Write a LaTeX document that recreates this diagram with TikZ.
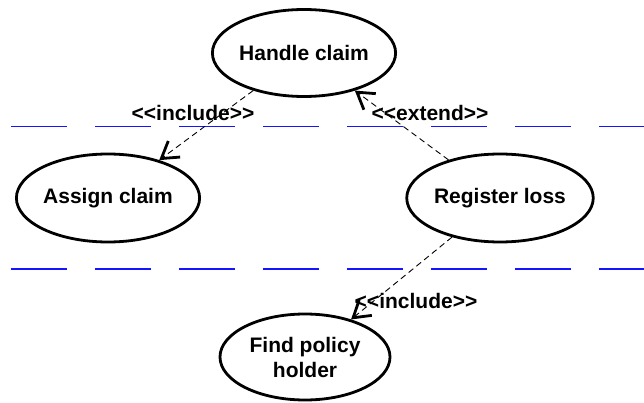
\documentclass[tikz,border=0pt]{standalone}
\usepackage{fontspec}
\newfontfamily\umlfont{Liberation Sans}
\usetikzlibrary{shapes.geometric,arrows.meta}
\definecolor{lanecol}{RGB}{20,20,255}
\begin{document}
\begin{tikzpicture}[x=1pt,y=-1pt,
  usecase/.style={ellipse,draw,line width=2.8pt,inner sep=0pt,align=center,
    font=\umlfont\bfseries\fontsize{21}{25}\selectfont},
  dep/.style={draw,line width=0.9pt,dash pattern=on 6pt off 4pt,
    -{Straight Barb[length=16pt,width=20pt,line width=2.8pt]}},
  stereo/.style={inner sep=0pt,font=\umlfont\bfseries\fontsize{21}{25}\selectfont},
  lane/.style={draw=lanecol,line width=1.5pt,dash pattern=on 56pt off 28pt}]
\useasboundingbox (0,0) rectangle (644,403);
% swimlane separators
\coordinate (l1a) at (11,126.5); \coordinate (l1b) at (644,126.5);
\coordinate (l2a) at (11,269); \coordinate (l2b) at (644,269);
\path[lane] (l1a) -- (l1b);
\path[lane] (l2a) -- (l2b);
% use cases
\node[usecase,minimum width=172pt,minimum height=87pt] (hc) at (304,53) {Handle claim};
\node[usecase,minimum width=176pt,minimum height=88pt] (ac) at (108,198) {Assign claim};
\node[usecase,minimum width=172pt,minimum height=88pt] (rl) at (500,198) {Register loss};
\node[usecase,minimum width=170pt,minimum height=86pt] (fp) at (305,357) {Find policy\\holder};
% dependencies
\draw[dep] (hc) -- (ac);
\draw[dep] (rl) -- (hc);
\draw[dep] (rl) -- (fp);
% stereotypes
\node[stereo] (s1) at (193,113) {<\kern0pt<include>\kern0pt>};
\node[stereo] (s2) at (430,113) {<\kern0pt<extend>\kern0pt>};
\node[stereo] (s3) at (416,301) {<\kern0pt<include>\kern0pt>};
\end{tikzpicture}
\end{document}
